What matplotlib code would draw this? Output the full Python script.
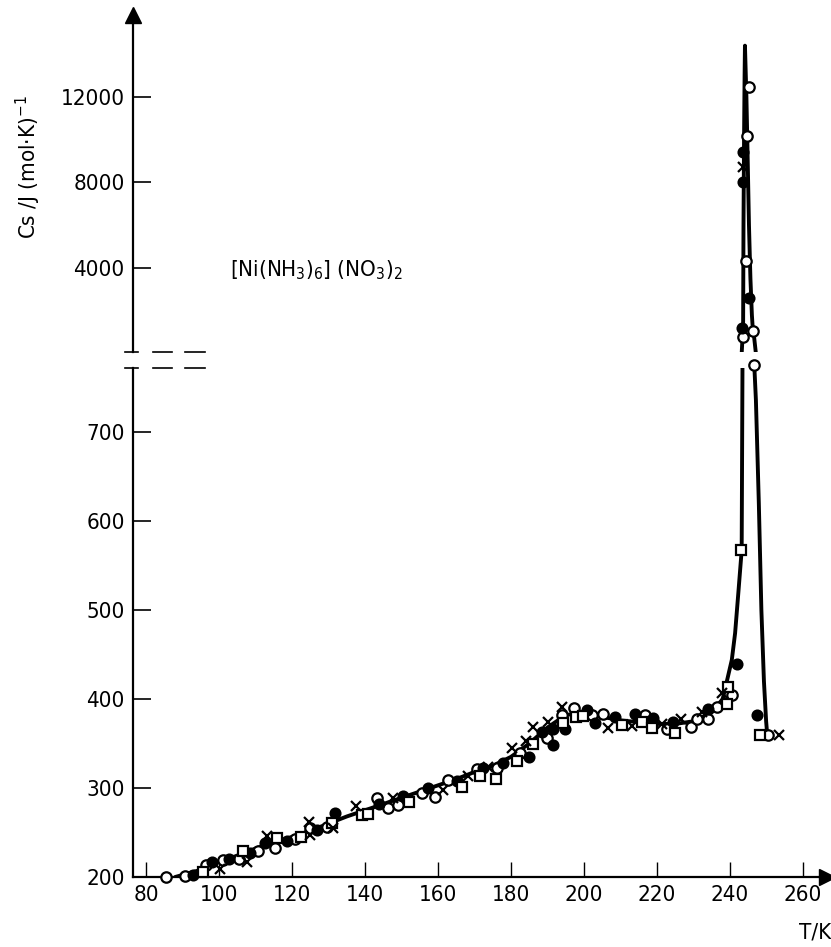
import numpy as np
import matplotlib
matplotlib.use("Agg")
import matplotlib.pyplot as plt
from matplotlib.lines import Line2D
from matplotlib import font_manager

# ---------------- data ----------------
open_circle_T = [85.4, 90.7, 96.4, 101.0, 105.5, 110.7, 115.3, 120.8, 124.9, 129.6, 143.2, 146.3,
                 149.0, 155.6, 159.2, 162.7, 170.7, 176.2, 182.5, 189.9, 194.0, 197.3, 202.2, 205.2,
                 216.7, 222.7, 229.3, 231.0, 234.0, 236.4, 240.5, 243.5, 244.4, 244.7, 245.2, 246.3,
                 246.5, 250.4]
open_circle_C = [200, 201, 213, 219, 220, 229, 233, 243, 255, 256, 289, 278,
                 281, 294, 290, 309, 321, 322, 339, 356, 382, 390, 382, 383,
                 382, 366, 369, 377, 377, 391, 404, 780, 4330, 10180, 12470, 1050,
                 775, 360]

filled_T = [92.9, 98.1, 102.7, 108.5, 112.6, 118.6, 126.8, 131.8, 143.8, 150.4, 157.3, 165.2,
            172.3, 177.8, 184.9, 188.5, 191.5, 191.5, 194.8, 200.8, 203.0, 208.5, 214.0, 218.9,
            224.4, 234.0, 241.9, 243.3, 243.6, 243.6, 245.2, 247.4]
filled_C = [202, 217, 220, 227, 238, 240, 253, 272, 282, 291, 300, 308,
            322, 328, 335, 363, 348, 366, 366, 388, 373, 380, 383, 379,
            374, 389, 439, 1190, 8000, 9430, 2600, 382]

square_T = [95.6, 106.5, 115.9, 122.4, 131.0, 139.2, 140.8, 152.0, 166.6, 171.5, 175.9, 181.6,
            186.0, 194.2, 197.8, 199.7, 210.4, 215.9, 218.6, 224.9, 239.2, 239.5, 243.0, 248.2]
square_C = [206, 229, 244, 245, 261, 270, 271, 284, 301, 313, 310, 330,
            350, 373, 380, 381, 371, 374, 367, 362, 394, 413, 567, 360]

cross_T = [100.3, 107.6, 113.2, 124.7, 124.9, 131.2, 137.5, 147.7, 161.4, 168.2, 173.7, 180.3,
           184.1, 186.0, 190.1, 194.0, 206.6, 213.2, 221.4, 226.6, 232.3, 237.8, 243.6, 253.4]
cross_C = [209, 217, 246, 262, 247, 255, 280, 289, 298, 313, 324, 345,
           353, 369, 374, 391, 367, 370, 372, 377, 385, 407, 8725, 360]

# smooth guide curve
line_T = [88, 95, 100, 105, 110, 115, 120, 125, 130, 135, 140, 145, 150, 155, 160, 165, 170,
          175, 180, 185, 190, 195, 200, 205, 210, 215, 220, 225, 230, 235, 238, 239.2, 240.5,
          241.4, 242.3, 243.2, 243.45, 243.6, 243.7, 243.85, 244.0, 244.1,
          244.5, 244.8, 245.2, 245.6, 246.0, 246.3, 246.6, 247.1, 247.9, 248.6, 249.3, 249.9, 250.2]
line_C = [200, 208, 217, 224, 232, 239, 245, 252, 260, 268, 275, 282, 289, 296, 303, 310, 318,
          325, 335, 350, 368, 382, 385, 380, 376, 374, 372, 372, 375, 385, 400, 421, 444,
          474, 520, 567, 800, 1500, 6000, 10000, 13000, 14400,
          12000, 9500, 6000, 3500, 1800, 1000, 780, 736, 620, 500, 420, 375, 360]

upper_ticks = [4000, 8000, 12000]
lower_ticks = [200, 300, 400, 500, 600, 700]
x_ticks = [80, 100, 120, 140, 160, 180, 200, 220, 240, 260]

# ---------------- fonts ----------------
plt.rcParams['font.family'] = ['DejaVu Sans']
plt.rcParams['font.stretch'] = 'condensed'
plt.rcParams['mathtext.fontset'] = 'dejavusans'

W, H = 831, 947
fig = plt.figure(figsize=(W / 100, H / 100), dpi=100)

def fx(px):
    return px / W

def fy(py):
    return 1 - py / H

left, right = 133, 820
ax_lo = fig.add_axes([fx(left), fy(877), fx(right - left), fy(368) - fy(877)])
ax_up = fig.add_axes([fx(left), fy(352), fx(right - left), fy(15) - fy(352)])

xlim = (76.44, 264.66)
for ax in (ax_lo, ax_up):
    ax.set_xlim(*xlim)
    ax.spines['right'].set_visible(False)
    ax.spines['top'].set_visible(False)
    ax.spines['left'].set_linewidth(1.6)
    ax.spines['bottom'].set_linewidth(1.6)
    ax.set_facecolor('none')

ax_lo.set_ylim(200, 772)
ax_up.set_ylim(70, 15835)
ax_up.spines['bottom'].set_visible(False)

fs = 16
ax_lo.set_xticks(x_ticks)
ax_lo.set_yticks(lower_ticks)
ax_lo.tick_params(axis='y', direction='in', length=13, width=1.2, labelsize=fs, pad=6)
ax_lo.tick_params(axis='x', direction='in', length=11, width=1.0, labelsize=fs, pad=6)
ax_up.set_yticks(upper_ticks)
ax_up.tick_params(axis='y', direction='in', length=13, width=1.2, labelsize=fs, pad=6)
ax_up.tick_params(axis='x', bottom=False, labelbottom=False)

lw = 2.8
lt = np.array(line_T)
lc = np.array(line_C)
ax_lo.plot(lt, lc, color='black', lw=lw, zorder=2, solid_capstyle='round')
# upper panel: spike portion only; neighbours pushed to the panel's lower edge
idx = np.where(lc >= 775)[0]
i0, i1 = max(idx[0] - 1, 0), min(idx[-1] + 1, len(lc) - 1)
up_T = lt[i0:i1 + 1]
up_C = lc[i0:i1 + 1].astype(float)
up_C[up_C < 775] = 0
ax_up.plot(up_T, up_C, color='black', lw=lw, zorder=2, solid_capstyle='round')

ms = 7.5
def scatter(T, C, **kw):
    T = np.array(T)
    C = np.array(C)
    lo = C < 776
    ax_lo.plot(T[lo], C[lo], linestyle='none', clip_on=False, zorder=3, **kw)
    ax_up.plot(T[~lo], C[~lo], linestyle='none', clip_on=False, zorder=3, **kw)

scatter(open_circle_T, open_circle_C, marker='o', ms=ms, mfc='white', mec='black', mew=1.6)
scatter(filled_T, filled_C, marker='o', ms=ms, mfc='black', mec='black', mew=1.2)
scatter(square_T, square_C, marker='s', ms=ms - 0.5, mfc='white', mec='black', mew=1.6)
scatter(cross_T, cross_C, marker='x', ms=ms, mec='black', mew=1.6)

# axis arrows
ax_up.plot([0], [1], marker='^', color='black', ms=11, transform=ax_up.transAxes, clip_on=False)
ax_lo.plot([1.01], [0], marker='>', color='black', ms=11, transform=ax_lo.transAxes, clip_on=False)
ax_lo.plot([1.0, 1.01], [0, 0], color='black', lw=1.6, transform=ax_lo.transAxes, clip_on=False)

# axis break marks
for yy in (352, 368):
    for x0, x1 in ((125, 138), (153, 172), (185, 205)):
        fig.add_artist(Line2D([fx(x0), fx(x1)], [fy(yy), fy(yy)], color='black', lw=1.2))

# texts
fig.text(fx(28), fy(167), 'Cs /J (mol·K)$^{-1}$', rotation=90, ha='center', va='center', fontsize=fs)
fig.text(fx(230), fy(270), r'[Ni(NH$_3$)$_6$] (NO$_3$)$_2$', ha='left', va='center', fontsize=fs)
fig.text(fx(815), fy(932), 'T/K', ha='center', va='center', fontsize=fs)

fig.savefig('out.png', dpi=100)
